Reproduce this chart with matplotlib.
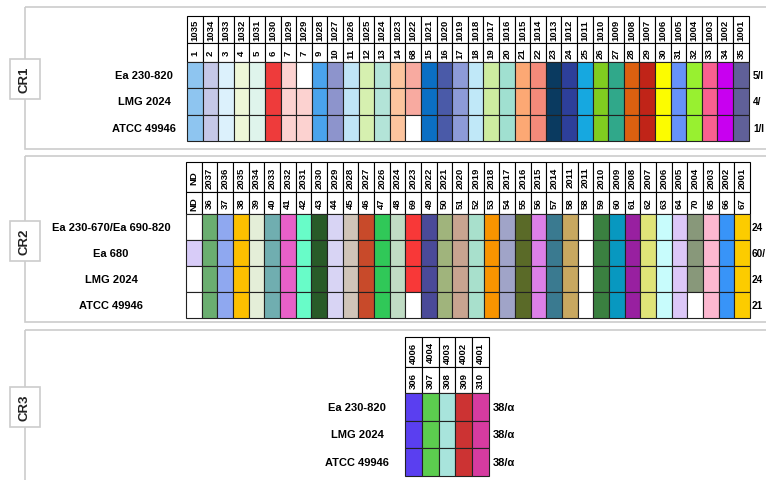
import matplotlib.pyplot as plt
from matplotlib.patches import Rectangle

plt.rcParams['font.family'] = ['Liberation Sans', 'DejaVu Sans']

# ---- CR1 data ----
cr1_top = ['1035', '1034', '1033', '1032', '1031', '1030', '1029', '1029', '1028', '1027',
           '1026', '1025', '1024', '1023', '1022', '1021', '1020', '1019', '1018', '1017',
           '1016', '1015', '1014', '1013', '1012', '1011', '1010', '1009', '1008', '1007',
           '1006', '1005', '1004', '1003', '1002', '1001']
cr1_sub = ['1', '2', '3', '4', '5', '6', '7', '7', '9', '10', '11', '12', '13', '14', '68',
           '15', '16', '17', '18', '19', '20', '21', '22', '23', '24', '25', '26', '27', '28',
           '29', '30', '31', '32', '33', '34', '35']
cr1_colors = ['#8ec5f0', '#c5c8e8', '#dcf1fc', '#eef7d8', '#dff4ec', '#ee3b3b', '#fcd2d0',
              '#fcd2d0', '#4aa3ec', '#8d94cc', '#c0e4f6', '#d6f0b0', '#b3e4d8', '#fcc49e',
              '#f8aaa0', '#0b6fc4', '#4a5aa8', '#8d9bd8', '#c0e8f8', '#cdeca0', '#a0e0d0',
              '#fca874', '#f48a7a', '#0a3a60', '#2d3f9a', '#16a8e0', '#80cc20', '#30a88a',
              '#dc6010', '#c02418', '#fcfc00', '#6692f8', '#98f030', '#f86090', '#c800f0',
              '#606098']
cr1_strains = ['Ea 230-820', 'LMG 2024', 'ATCC 49946']
cr1_types = ['5/I', '4/', '1/I']
cr1_blank = [(0, 7), (2, 14)]  # (row, column) cells left white

# ---- CR2 data ----
cr2_top = ['ND', '2037', '2036', '2035', '2034', '2033', '2032', '2031', '2030', '2029',
           '2028', '2027', '2026', '2024', '2023', '2022', '2021', '2020', '2019', '2018',
           '2017', '2016', '2015', '2014', '2011', '2011', '2010', '2009', '2008', '2007',
           '2006', '2005', '2004', '2003', '2002', '2001']
cr2_sub = ['ND', '36', '37', '38', '39', '40', '41', '42', '43', '44', '45', '46', '47', '48',
           '69', '49', '50', '51', '52', '53', '54', '55', '56', '57', '58', '58', '59', '60',
           '61', '62', '63', '64', '70', '65', '66', '67']
cr2_colors = ['#d8ccf8', '#6aae70', '#8fa8f0', '#fcc000', '#e4eed8', '#70aeb0', '#e860c8',
              '#68fcc8', '#285a28', '#d8d4f4', '#d0c4b8', '#c84a2a', '#30c858', '#c0dcc4',
              '#f83838', '#4a4a98', '#a0b47c', '#c8a490', '#a8e0cc', '#f89400', '#a0a4c8',
              '#5a6a28', '#dc80e8', '#3a7a90', '#c8a860', '#ffffff', '#3a8040', '#0898c0',
              '#9820a0', '#e0e478', '#c8fcfc', '#dcc8f8', '#88987a', '#fcb8d0', '#3894f8',
              '#fccc00']
cr2_strains = ['Ea 230-670/Ea 690-820', 'Ea 680', 'LMG 2024', 'ATCC 49946']
cr2_types = ['24', '60/', '24', '21']
cr2_blank = [(0, 0), (2, 0), (3, 0), (3, 14), (3, 32)]

# ---- CR3 data ----
cr3_top = ['4006', '4004', '4003', '4002', '4001']
cr3_sub = ['306', '307', '308', '309', '310']
cr3_colors = ['#5a3ff0', '#5ccd4f', '#a8e4dc', '#cc3333', '#d63ba0']
cr3_strains = ['Ea 230-820', 'LMG 2024', 'ATCC 49946']
cr3_types = ['38/α', '38/α', '38/α']
cr3_blank = []

fig = plt.figure(figsize=(7.66, 4.81), dpi=100)
ax = fig.add_axes([0, 0, 1, 1])
ax.set_xlim(0, 766)
ax.set_ylim(481, 0)
ax.axis('off')

GRAY = '#cccccc'


def panel(y0, y1, name, ly0, ly1):
    ax.add_patch(Rectangle((25, y0), 800, y1 - y0, fill=False, ec=GRAY, lw=1.2))
    ax.add_patch(Rectangle((10, ly0), 30, ly1 - ly0, fc='white', ec=GRAY, lw=1.2, zorder=3))
    ax.text(25, (ly0 + ly1) / 2, name, rotation=90, ha='center', va='center',
            fontsize=9.5, fontweight='bold', color='#222222', zorder=4)


def table(x0, y0, cw, h1, h2, rh, top, sub, colors, blank, strains, types,
          label_x, type_x, type_fs):
    n = len(top)
    yh2 = y0 + h1
    yd = yh2 + h2
    for i in range(n):
        x = x0 + i * cw
        ax.add_patch(Rectangle((x, y0), cw, h1, fc='white', ec='black', lw=0.8))
        ax.add_patch(Rectangle((x, yh2), cw, h2, fc='white', ec='black', lw=0.8))
        ax.text(x + cw / 2, y0 + h1 / 2, top[i], rotation=90, ha='center', va='center',
                fontsize=6.8, fontweight='bold')
        ax.text(x + cw / 2, yh2 + h2 / 2, sub[i], rotation=90, ha='center', va='center',
                fontsize=6.8, fontweight='bold')
        for r in range(len(strains)):
            c = 'white' if (r, i) in blank else colors[i]
            ax.add_patch(Rectangle((x, yd + r * rh), cw, rh, fc=c, ec='#222222', lw=0.8))
    for r, s in enumerate(strains):
        yc = yd + (r + 0.5) * rh
        ax.text(label_x, yc, s, ha='center', va='center', fontsize=8, fontweight='bold')
        ax.text(type_x, yc, types[r], ha='left', va='center', fontsize=type_fs,
                fontweight='bold')


panel(8, 150, 'CR1', 60, 100)
panel(157, 323, 'CR2', 222, 262)
panel(331, 520, 'CR3', 388, 428)

table(187, 17, 15.6, 27, 19, 26.3, cr1_top, cr1_sub, cr1_colors, cr1_blank,
      cr1_strains, cr1_types, 144, 753, 7.2)
table(186, 163, 15.67, 30, 22, 26, cr2_top, cr2_sub, cr2_colors, cr2_blank,
      cr2_strains, cr2_types, 111, 751.5, 7.2)
table(405, 338, 16.8, 30, 26, 27.5, cr3_top, cr3_sub, cr3_colors, cr3_blank,
      cr3_strains, cr3_types, 357, 493, 8)

fig.savefig('out.png', dpi=100)
